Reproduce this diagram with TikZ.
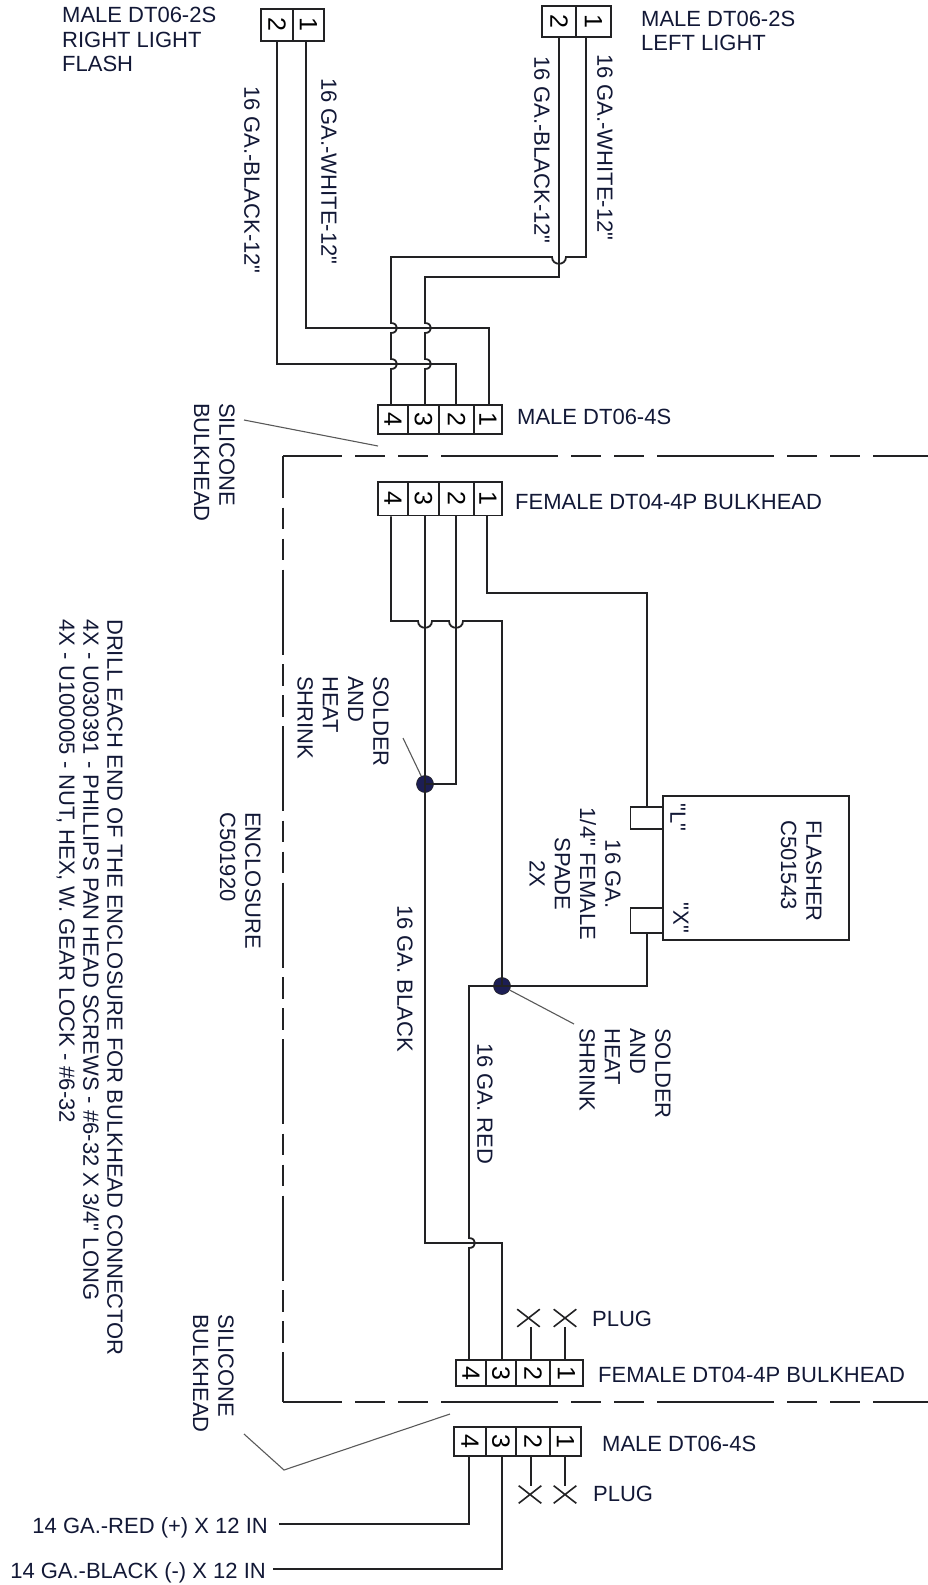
\documentclass[tikz,border=0pt]{standalone}
\usepackage{fontspec}
\newfontfamily\schemfont{Liberation Sans}
\usetikzlibrary{shapes.misc}
\definecolor{inkblue}{RGB}{18,24,54}
\definecolor{wireblack}{RGB}{34,34,36}
\definecolor{dotblue}{RGB}{28,30,84}
\newcommand{\hopv}[2]{-- (#1,#2-5) .. controls (#1+8,#2-5) and (#1+8,#2+5) .. (#1,#2+5)}
\newcommand{\hoph}[2]{-- (#1+7,#2) .. controls (#1+7,#2+9) and (#1-7,#2+9) .. (#1-7,#2)}
\newcommand{\hophr}[2]{-- (#1-7,#2) .. controls (#1-7,#2+9) and (#1+7,#2+9) .. (#1+7,#2)}
\begin{document}
\begin{tikzpicture}[
        x=1pt, y=-1pt,
        wire/.style={draw=wireblack, line width=1.8pt},
        leadline/.style={draw=black!65, line width=1.1pt},
        encl/.style={draw=wireblack, line width=1.8pt},
        pincell/.style={draw=wireblack, line width=1.8pt, rotate=-90, inner sep=0pt, text=black, font=\schemfont\fontsize{25pt}{25pt}\selectfont},
        boxpart/.style={draw=wireblack, line width=1.8pt, inner sep=0pt},
        lbl/.style={text=inkblue, inner sep=0pt, align=left, font=\schemfont\fontsize{22pt}{24.5pt}\selectfont},
        lblrot/.style={lbl, rotate=-90, anchor=north west, font=\schemfont\fontsize{22pt}{25.3pt}\selectfont},
        solderdot/.style={circle, fill=dotblue, draw=wireblack, line width=0.6pt, inner sep=0pt, minimum size=17pt},
        plugx/.style={cross out, draw=wireblack, line width=1.6pt, inner sep=0pt, minimum width=21pt, minimum height=16pt},
    ]
    \useasboundingbox (0,0) rectangle (928,1585);

    \node[pincell, minimum width=31.6pt, minimum height=32pt](rr2) at (277,24.8){2};
    \node[pincell, minimum width=31.6pt, minimum height=31pt](rr1) at (308.5,24.8){1};
    \node[pincell, minimum width=31pt, minimum height=34pt](ll2) at (559,21.5){2};
    \node[pincell, minimum width=31pt, minimum height=35pt](ll1) at (593.5,21.5){1};

    \node[pincell, minimum width=29pt, minimum height=30pt](mt4) at (393,419.5){4};
    \node[pincell, minimum width=29pt, minimum height=31pt](mt3) at (423.5,419.5){3};
    \node[pincell, minimum width=29pt, minimum height=35pt](mt2) at (456.5,419.5){2};
    \node[pincell, minimum width=29pt, minimum height=28pt](mt1) at (488,419.5){1};

    \node[pincell, minimum width=33.5pt, minimum height=30pt](ft4) at (393,498.75){4};
    \node[pincell, minimum width=33.5pt, minimum height=31pt](ft3) at (423.5,498.75){3};
    \node[pincell, minimum width=33.5pt, minimum height=35pt](ft2) at (456.5,498.75){2};
    \node[pincell, minimum width=33.5pt, minimum height=28pt](ft1) at (488,498.75){1};

    \node[pincell, minimum width=26pt, minimum height=30pt](fb4) at (471,1373){4};
    \node[pincell, minimum width=26pt, minimum height=30pt](fb3) at (501,1373){3};
    \node[pincell, minimum width=26pt, minimum height=34pt](fb2) at (533,1373){2};
    \node[pincell, minimum width=26pt, minimum height=33pt](fb1) at (566.5,1373){1};

    \node[pincell, minimum width=29pt, minimum height=32pt](mb4) at (470,1441.5){4};
    \node[pincell, minimum width=29pt, minimum height=30pt](mb3) at (501,1441.5){3};
    \node[pincell, minimum width=29pt, minimum height=34pt](mb2) at (533,1441.5){2};
    \node[pincell, minimum width=29pt, minimum height=31pt](mb1) at (565.5,1441.5){1};

    \node[boxpart, minimum width=186pt, minimum height=144pt](flasher) at (756,868){};
    \node[boxpart, minimum width=33pt, minimum height=22pt](spadel) at (647,818){};
    \node[boxpart, minimum width=33pt, minimum height=25pt](spadex) at (647,920.5){};

    \node[solderdot](dota) at (425,784){};
    \node[solderdot](dotb) at (502,986){};

    \node[plugx](xta) at (528.5,1318){};
    \node[plugx](xtb) at (565,1318){};
    \node[plugx](xba) at (530,1494.5){};
    \node[plugx](xbb) at (565,1494.5){};

    \coordinate (redin) at (279,1524);
    \coordinate (blackin) at (273,1569);
    \coordinate (leadta) at (403,738);
    \coordinate (leadtb) at (574,1024);
    \coordinate (bulka) at (244,420);
    \coordinate (bulkb) at (378,446);
    \coordinate (bulkc) at (244,1434);
    \coordinate (bulkd) at (284,1470);
    \coordinate (bulke) at (450,1414);

    \draw[wire] ([xshift=-7.5pt]ll1.east) -- (586,257) \hoph{559}{257} -- (391,257) \hopv{391}{328} \hopv{391}{364} -- ([xshift=-2pt]mt4.west);
    \draw[wire] (ll2.east) -- (559,277) -- (425,277) \hopv{425}{328} \hopv{425}{364} -- ([xshift=1.5pt]mt3.west);
    \draw[wire] ([xshift=-2.5pt]rr1.east) -- (306,328) -- (489,328) -- ([xshift=1pt]mt1.west);
    \draw[wire] (rr2.east) -- (277,364) -- (456,364) -- ([xshift=-.5pt]mt2.west);

    \draw[wire] ([xshift=-2pt]ft4.east) -- (391,621) \hophr{425}{621} \hophr{456}{621} -- (502,621) -- (dotb.center);
    \draw[wire] ([xshift=1.5pt]ft3.east) -- (425,1243) -- (502,1243) -- ([xshift=1pt]fb3.west);
    \draw[wire] ([xshift=-.5pt]ft2.east) -- (456,784) -- (dota.center);
    \draw[wire] ([xshift=-1pt]ft1.east) -- (487,593) -- (647,593) -- (spadel.north);
    \draw[wire] (spadex.south) -- (647,986) -- (dotb.center);
    \draw[wire] (dotb.center) -- (469,986) \hopv{469}{1243} -- ([xshift=-2pt]fb4.west);

    \draw[wire] ([xshift=2.5pt]xta.south) -- ([xshift=-2pt]fb2.west);
    \draw[wire] (xtb.south) -- ([xshift=-1.5pt]fb1.west);
    \draw[wire] ([xshift=-2pt]mb2.east) -- ([xshift=1pt]xba.north);
    \draw[wire] ([xshift=-.5pt]mb1.east) -- (xbb.north);
    \draw[wire] ([xshift=-1pt]mb4.east) -- (469,1524) -- (redin);
    \draw[wire] ([xshift=1pt]mb3.east) -- (502,1569) -- (blackin);

    \draw[encl, dash pattern=on 117pt off 13pt on 30pt off 13pt on 30pt off 13pt, dash phase=58pt] (283,456) -- (928,456);
    \draw[encl, dash pattern=on 117pt off 13pt on 30pt off 13pt on 30pt off 13pt, dash phase=58pt] (283,1402) -- (928,1402);
    \draw[encl, dash pattern=on 85pt off 9.5pt on 21.5pt off 9.5pt on 21.5pt off 9.5pt, dash phase=43pt] (283,456) -- (283,1402);

    \draw[leadline] (leadta) -- (dota);
    \draw[leadline] (leadtb) -- (dotb);
    \draw[leadline] (bulka) -- (bulkb);
    \draw[leadline] (bulkc) -- (bulkd) -- (bulke);

    \node[lbl, anchor=north west](rlight) at (62,7){MALE DT06-2S\\RIGHT LIGHT\\FLASH};
    \node[lbl, anchor=north west](llight) at (641,10.5){MALE DT06-2S\\LEFT LIGHT};
    \node[lbl, anchor=base west](mtlabel) at (517,424.5){MALE DT06-4S};
    \node[lbl, anchor=base west](ftlabel) at (515,509){FEMALE DT04-4P BULKHEAD};
    \node[lbl, anchor=base west](plugt) at (592,1326){PLUG};
    \node[lbl, anchor=base west](fblabel) at (598,1382){FEMALE DT04-4P BULKHEAD};
    \node[lbl, anchor=base west](mblabel) at (602,1451){MALE DT06-4S};
    \node[lbl, anchor=base west](plugb) at (593,1501){PLUG};
    \node[lbl, anchor=base east](redlabel) at (268,1533){14 GA.-RED (+) X 12 IN};
    \node[lbl, anchor=base east](blacklabel) at (266,1578){14 GA.-BLACK (-) X 12 IN};

    \node[lblrot](rbwire) at (260,86){16 GA.-BLACK-12"};
    \node[lblrot](rwwire) at (337,78){16 GA.-WHITE-12"};
    \node[lblrot](lbwire) at (550,56){16 GA.-BLACK-12"};
    \node[lblrot](lwwire) at (613,54){16 GA.-WHITE-12"};
    \node[lblrot](siltop) at (235,403){SILICONE\\BULKHEAD};
    \node[lblrot](silbot) at (234,1314){SILICONE\\BULKHEAD};
    \node[lblrot, font=\schemfont\fontsize{22pt}{24pt}\selectfont](notes) at (123,619){DRILL EACH END OF THE ENCLOSURE FOR BULKHEAD CONNECTOR\\4X - U030391 - PHILLIPS PAN HEAD SCREWS - \#6-32 X 3/4" LONG\\4X - U100005 - NUT, HEX, W. GEAR LOCK - \#6-32};
    \node[lblrot](soldera) at (389,676){SOLDER\\AND\\HEAT\\SHRINK};
    \node[lblrot](solderb) at (671,1028){SOLDER\\AND\\HEAT\\SHRINK};
    \node[lblrot](enclosure) at (261,812){ENCLOSURE\\C501920};
    \node[lblrot](blackwire) at (413,905){16 GA. BLACK};
    \node[lblrot](redwire) at (493,1043){16 GA. RED};
    \node[lblrot, anchor=north, align=center](spade) at (621,874){16 GA.\\1/4" FEMALE\\SPADE\\2X};
    \node[lblrot](flashname) at (822,820){FLASHER\\C501543};
    \node[lbl, rotate=-90](lpin) at (678,817.5){"L"};
    \node[lbl, rotate=-90](xpin) at (681,918){"X"};
\end{tikzpicture}
\end{document}
